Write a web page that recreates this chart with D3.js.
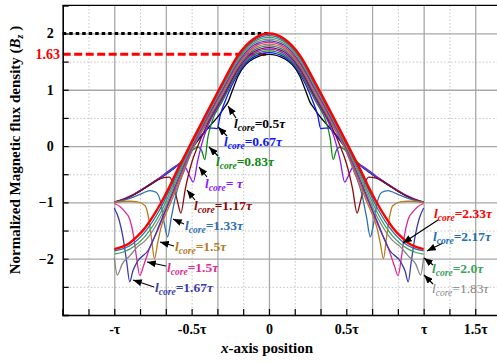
<!DOCTYPE html>
<html><head><meta charset="utf-8">
<script src="https://cdn.jsdelivr.net/npm/d3@7"></script>
<style>body{margin:0;background:#fff}svg{display:block}text{font-family:"Liberation Serif","Times New Roman",serif}</style>
</head><body><svg id="c" width="497" height="363"></svg>
<script>
// ---------- data (x in units of tau, y = normalized Bz) ----------
const lcore050 = [[-1,-1],[-0.95,-0.96],[-0.9,-0.9],[-0.85,-0.83],[-0.8,-0.74],[-0.75,-0.65],[-0.7,-0.56],[-0.65,-0.46],[-0.6,-0.36],[-0.55,-0.24],[-0.5,-0.05],[-0.4,0.3],[-0.32,0.56],[-0.29,0.68],[-0.265,0.78],[-0.24,0.96],[-0.2,1.24],[-0.1,1.55],[0,1.63],[0.1,1.55],[0.2,1.24],[0.24,0.96],[0.265,0.78],[0.29,0.68],[0.32,0.56],[0.4,0.3],[0.5,-0.05],[0.55,-0.24],[0.6,-0.36],[0.65,-0.46],[0.7,-0.56],[0.75,-0.65],[0.8,-0.74],[0.85,-0.83],[0.9,-0.9],[0.95,-0.96],[1,-1]];
const lcore067 = [[-1,-1.005],[-0.95,-0.965],[-0.9,-0.905],[-0.8,-0.745],[-0.7,-0.565],[-0.6,-0.365],[-0.55,-0.245],[-0.5,-0.04],[-0.42,0.24],[-0.39,0.32],[-0.36,0.32],[-0.335,0.31],[-0.315,0.55],[-0.28,0.82],[-0.2,1.28],[-0.1,1.58],[0,1.66],[0.1,1.58],[0.2,1.28],[0.28,0.82],[0.315,0.55],[0.335,0.31],[0.36,0.32],[0.39,0.32],[0.42,0.24],[0.5,-0.04],[0.55,-0.245],[0.6,-0.365],[0.7,-0.565],[0.8,-0.745],[0.9,-0.905],[0.95,-0.965],[1,-1.005]];
const lcore083 = [[-1,-0.995],[-0.95,-0.955],[-0.9,-0.895],[-0.8,-0.735],[-0.7,-0.555],[-0.6,-0.355],[-0.55,-0.235],[-0.5,-0.09],[-0.46,-0.02],[-0.435,-0.08],[-0.415,-0.24],[-0.395,0.15],[-0.37,0.42],[-0.3,0.8],[-0.2,1.31],[-0.1,1.61],[0,1.69],[0.1,1.61],[0.2,1.31],[0.3,0.8],[0.37,0.42],[0.395,0.15],[0.415,-0.24],[0.435,-0.08],[0.46,-0.02],[0.5,-0.09],[0.55,-0.235],[0.6,-0.355],[0.7,-0.555],[0.8,-0.735],[0.9,-0.895],[0.95,-0.955],[1,-0.995]];
const lcore100 = [[-1,-0.99],[-0.95,-0.95],[-0.9,-0.89],[-0.8,-0.73],[-0.7,-0.55],[-0.6,-0.35],[-0.56,-0.32],[-0.535,-0.4],[-0.51,-0.55],[-0.49,-0.64],[-0.46,-0.25],[-0.43,0.08],[-0.4,0.32],[-0.3,0.84],[-0.2,1.34],[-0.1,1.64],[0,1.72],[0.1,1.64],[0.2,1.34],[0.3,0.84],[0.4,0.32],[0.43,0.08],[0.46,-0.25],[0.49,-0.64],[0.51,-0.55],[0.535,-0.4],[0.56,-0.32],[0.6,-0.35],[0.7,-0.55],[0.8,-0.73],[0.9,-0.89],[0.95,-0.95],[1,-0.99]];
const lcore117 = [[-1,-1],[-0.9,-0.9],[-0.8,-0.74],[-0.72,-0.6],[-0.68,-0.56],[-0.645,-0.55],[-0.62,-0.66],[-0.59,-1.0],[-0.57,-1.19],[-0.54,-0.75],[-0.5,-0.3],[-0.46,0.0],[-0.4,0.38],[-0.3,0.87],[-0.2,1.37],[-0.1,1.67],[0,1.75],[0.1,1.67],[0.2,1.37],[0.3,0.87],[0.4,0.38],[0.46,0.0],[0.5,-0.3],[0.54,-0.75],[0.57,-1.19],[0.59,-1.0],[0.62,-0.66],[0.645,-0.55],[0.68,-0.56],[0.72,-0.6],[0.8,-0.74],[0.9,-0.9],[1,-1]];
const lcore133 = [[-1,-1],[-0.95,-0.97],[-0.9,-0.93],[-0.82,-0.84],[-0.77,-0.79],[-0.73,-0.82],[-0.7,-1.0],[-0.675,-1.4],[-0.655,-1.61],[-0.63,-1.25],[-0.6,-0.85],[-0.55,-0.45],[-0.5,-0.1],[-0.4,0.42],[-0.3,0.9],[-0.2,1.4],[-0.1,1.7],[0,1.78],[0.1,1.7],[0.2,1.4],[0.3,0.9],[0.4,0.42],[0.5,-0.1],[0.55,-0.45],[0.6,-0.85],[0.63,-1.25],[0.655,-1.61],[0.675,-1.4],[0.7,-1.0],[0.73,-0.82],[0.77,-0.79],[0.82,-0.84],[0.9,-0.93],[0.95,-0.97],[1,-1]];
const lcore150a = [[-1,-1],[-0.9,-0.98],[-0.85,-0.99],[-0.8,-1.06],[-0.78,-1.25],[-0.76,-1.62],[-0.74,-2.0],[-0.72,-1.73],[-0.7,-1.47],[-0.65,-1.1],[-0.6,-0.78],[-0.5,-0.08],[-0.4,0.45],[-0.3,0.94],[-0.2,1.43],[-0.1,1.73],[0,1.81],[0.1,1.73],[0.2,1.43],[0.3,0.94],[0.4,0.45],[0.5,-0.08],[0.6,-0.78],[0.65,-1.1],[0.7,-1.47],[0.72,-1.73],[0.74,-2.0],[0.76,-1.62],[0.78,-1.25],[0.8,-1.06],[0.85,-0.99],[0.9,-0.98],[1,-1]];
const lcore150b = [[-1,-1.02],[-0.96,-1.08],[-0.93,-1.17],[-0.9,-1.3],[-0.875,-1.6],[-0.855,-2.0],[-0.835,-2.3],[-0.81,-2.12],[-0.77,-1.8],[-0.72,-1.5],[-0.66,-1.1],[-0.6,-0.72],[-0.5,-0.05],[-0.4,0.48],[-0.3,0.98],[-0.2,1.46],[-0.1,1.76],[0,1.84],[0.1,1.76],[0.2,1.46],[0.3,0.98],[0.4,0.48],[0.5,-0.05],[0.6,-0.72],[0.66,-1.1],[0.72,-1.5],[0.77,-1.8],[0.81,-2.12],[0.835,-2.3],[0.855,-2.0],[0.875,-1.6],[0.9,-1.3],[0.93,-1.17],[0.96,-1.08],[1,-1.02]];
const lcore167 = [[-1,-1.1],[-0.97,-1.3],[-0.945,-1.6],[-0.92,-2.05],[-0.9,-2.41],[-0.88,-2.22],[-0.85,-2.05],[-0.78,-1.85],[-0.7,-1.34],[-0.6,-0.67],[-0.5,-0.02],[-0.4,0.51],[-0.3,1.01],[-0.2,1.49],[-0.1,1.79],[0,1.87],[0.1,1.79],[0.2,1.49],[0.3,1.01],[0.4,0.51],[0.5,-0.02],[0.6,-0.67],[0.7,-1.34],[0.78,-1.85],[0.85,-2.05],[0.88,-2.22],[0.9,-2.41],[0.92,-2.05],[0.945,-1.6],[0.97,-1.3],[1,-1.1]];
const lcore183 = [[-1,-1.98],[-0.98,-2.29],[-0.95,-2.1],[-0.9,-1.95],[-0.85,-1.79],[-0.8,-1.68],[-0.7,-1.26],[-0.6,-0.62],[-0.5,0.0],[-0.4,0.54],[-0.3,1.04],[-0.2,1.52],[-0.1,1.82],[0,1.9],[0.1,1.82],[0.2,1.52],[0.3,1.04],[0.4,0.54],[0.5,0.0],[0.6,-0.62],[0.7,-1.26],[0.8,-1.68],[0.85,-1.79],[0.9,-1.95],[0.95,-2.1],[0.98,-2.29],[1,-1.98]];
const lcore200 = [[-1,-1.92],[-0.95,-1.89],[-0.9,-1.83],[-0.8,-1.6],[-0.7,-1.18],[-0.6,-0.57],[-0.5,0.03],[-0.4,0.56],[-0.3,1.07],[-0.2,1.55],[-0.1,1.85],[0,1.93],[0.1,1.85],[0.2,1.55],[0.3,1.07],[0.4,0.56],[0.5,0.03],[0.6,-0.57],[0.7,-1.18],[0.8,-1.6],[0.9,-1.83],[0.95,-1.89],[1,-1.92]];
const lcore217 = [[-1,-1.86],[-0.95,-1.83],[-0.9,-1.77],[-0.8,-1.52],[-0.7,-1.1],[-0.6,-0.52],[-0.5,0.05],[-0.4,0.58],[-0.3,1.09],[-0.2,1.58],[-0.1,1.87],[0,1.96],[0.1,1.87],[0.2,1.58],[0.3,1.09],[0.4,0.58],[0.5,0.05],[0.6,-0.52],[0.7,-1.1],[0.8,-1.52],[0.9,-1.77],[0.95,-1.83],[1,-1.86]];
const lcore233 = [[-1,-1.83],[-0.95,-1.79],[-0.9,-1.72],[-0.85,-1.6],[-0.8,-1.45],[-0.75,-1.25],[-0.7,-1.02],[-0.65,-0.76],[-0.6,-0.47],[-0.55,-0.2],[-0.5,0.07],[-0.4,0.6],[-0.3,1.12],[-0.2,1.61],[-0.1,1.9],[0,2.0],[0.1,1.9],[0.2,1.61],[0.3,1.12],[0.4,0.6],[0.5,0.07],[0.55,-0.2],[0.6,-0.47],[0.65,-0.76],[0.7,-1.02],[0.75,-1.25],[0.8,-1.45],[0.85,-1.6],[0.9,-1.72],[0.95,-1.79],[1,-1.83]];

const seriesData   = [lcore050,lcore067,lcore083,lcore100,lcore117,lcore133,lcore150a,lcore150b,lcore167,lcore183,lcore200,lcore217,lcore233];
const seriesLabels = ["=0.5τ","=0.67τ","=0.83τ","= τ","=1.17τ","=1.33τ","=1.5τ","=1.5τ","=1.67τ","=1.83τ","=2.0τ","=2.17τ","=2.33τ"];
const seriesColors = ["#000000","#0a14ff","#108a10","#8a1aff","#8b0a0a","#2f6fb0","#b87a1c","#dc2a96","#3c3ca8","#858585","#3ca05e","#1e70b0","#ff0000"];

const xTickValues = [-1,-0.5,0,0.5,1,4/3];
const xTickLabels = ["-τ","-0.5τ","0","0.5τ","τ","1.5τ"];
const xMajorGrid  = [-1,-2/3,-1/3,0,1/3,2/3,1,4/3];
const xMinorGrid  = [-7/6,-5/6,-1/2,-1/6,1/6,1/2,5/6,7/6];
const yTickValues = [-2,-1,0,1,2];
const yMinorGrid  = [-2.5,-1.5,-0.5,0.5,1.5];
const refLevels   = [2,1.63];

// ---------- layout ----------
const X0=62.7, X1=501, Y0=315, Y1=5.3;
const x=d3.scaleLinear().domain([-4/3,1.5]).range([X0,X1]);
const y=d3.scaleLinear().domain([-3,2.5]).range([Y0,Y1]);
const svg=d3.select("#c");
const defs=svg.append("defs");
defs.append("clipPath").attr("id","clip").append("rect").attr("x",X0).attr("y",Y1).attr("width",X1-X0).attr("height",Y0-Y1);
defs.append("marker").attr("id","ah").attr("viewBox","0 0 10 8").attr("refX",10).attr("refY",4)
  .attr("markerWidth",9).attr("markerHeight",7).attr("markerUnits","userSpaceOnUse").attr("orient","auto")
  .append("path").attr("d","M0,0L10,4L0,8z").attr("fill","#000");

// grid
const g=svg.append("g");
g.append("g").attr("transform",`translate(0,${Y0})`).call(d3.axisBottom(x).tickValues(xMinorGrid).tickSize(-(Y0-Y1)).tickFormat(""))
  .call(a=>{a.select(".domain").remove();a.selectAll("line").attr("stroke","#c4c4c4").attr("stroke-width",1).attr("stroke-dasharray","1.5,2");});
g.append("g").attr("transform",`translate(${X0},0)`).call(d3.axisLeft(y).tickValues(yMinorGrid).tickSize(-(X1-X0)).tickFormat(""))
  .call(a=>{a.select(".domain").remove();a.selectAll("line").attr("stroke","#c4c4c4").attr("stroke-width",1).attr("stroke-dasharray","1.5,2");});
g.append("g").attr("transform",`translate(0,${Y0})`).call(d3.axisBottom(x).tickValues(xMajorGrid).tickSize(-(Y0-Y1)).tickFormat(""))
  .call(a=>{a.select(".domain").remove();a.selectAll("line").attr("stroke","#a8a8a8").attr("stroke-width",1.3);});
g.append("g").attr("transform",`translate(${X0},0)`).call(d3.axisLeft(y).tickValues(yTickValues).tickSize(-(X1-X0)).tickFormat(""))
  .call(a=>{a.select(".domain").remove();a.selectAll("line").attr("stroke","#a8a8a8").attr("stroke-width",1.3);});

// reference dashed lines
svg.append("line").attr("x1",X0).attr("x2",x(0)).attr("y1",y(refLevels[0])).attr("y2",y(refLevels[0]))
  .attr("stroke","#000").attr("stroke-width",3).attr("stroke-dasharray","3.5,3");
svg.append("line").attr("x1",X0).attr("x2",x(0)).attr("y1",y(refLevels[1])).attr("y2",y(refLevels[1]))
  .attr("stroke","#ff0000").attr("stroke-width",3).attr("stroke-dasharray","8,3.5");

// curves
const line=d3.line().x(d=>x(d[0])).y(d=>y(d[1])).curve(d3.curveMonotoneX);
const cg=svg.append("g").attr("clip-path","url(#clip)");
seriesData.forEach((s,i)=>{
  cg.append("path").datum(s).attr("d",line).attr("fill","none").attr("stroke",seriesColors[i])
    .attr("stroke-width",i===12?2.4:1.3).attr("stroke-linejoin","round");
});

// axes frame
svg.append("line").attr("x1",X0).attr("x2",497).attr("y1",Y1).attr("y2",Y1).attr("stroke","#000").attr("stroke-width",1.3);
const minorTicks=[...xMajorGrid,...xMinorGrid,-4/3];
svg.append("g").attr("transform",`translate(0,${Y0})`).call(d3.axisBottom(x).tickValues(minorTicks).tickSize(-6).tickFormat(""))
  .call(a=>{a.select(".domain").attr("stroke","#000").attr("stroke-width",1.6);a.selectAll("line").attr("stroke","#000").attr("stroke-width",1.2);});
svg.append("g").attr("transform",`translate(${X0},0)`).call(d3.axisLeft(y).tickValues([...yTickValues,...yMinorGrid,2.5,-3]).tickSize(-6).tickFormat(""))
  .call(a=>{a.select(".domain").attr("stroke","#000").attr("stroke-width",1.6);a.selectAll("line").attr("stroke","#000").attr("stroke-width",1.2);});

// tick labels
svg.append("g").attr("transform",`translate(0,${Y0})`)
  .call(d3.axisBottom(x).tickValues(xTickValues).tickSize(0).tickPadding(9).tickFormat((d,i)=>xTickLabels[i]))
  .call(a=>{a.select(".domain").remove();a.selectAll("text").attr("font-family","Liberation Serif").attr("font-size",14).attr("font-weight","bold").attr("fill","#000");});
svg.append("g").attr("transform",`translate(${X0},0)`)
  .call(d3.axisLeft(y).tickValues(yTickValues).tickSize(0).tickPadding(9).tickFormat(d3.format("d")))
  .call(a=>{a.select(".domain").remove();a.selectAll("text").attr("font-family","Liberation Serif").attr("font-size",14).attr("font-weight","bold").attr("fill","#000");});
svg.append("text").attr("x",60).attr("y",y(refLevels[1])+5).attr("text-anchor","end").attr("font-size",14)
  .attr("font-weight","bold").attr("fill","#ff0000").text("1.63");

// axis titles
const xt=svg.append("text").attr("x",267).attr("y",353).attr("text-anchor","middle").attr("font-size",15).attr("font-weight","bold");
xt.append("tspan").attr("font-style","italic").text("x");
xt.append("tspan").text("-axis position");
const yt=svg.append("text").attr("transform","translate(20,150) rotate(-90)").attr("text-anchor","middle").attr("font-size",15).attr("font-weight","bold");
yt.append("tspan").text("Normalized Magnetic flux density (");
yt.append("tspan").attr("font-style","italic").text("B");
yt.append("tspan").attr("font-style","italic").attr("font-size",10).attr("dy",3).text("z");
yt.append("tspan").attr("dy",-3).text(" )");

// curve labels: [text x, baseline y, arrow from x,y, arrow to x,y]
const labelPos = [
  [234,128, 236,118, 228,106],
  [224,146, 227,136, 218,127],
  [216,166, 218,156, 209,147],
  [205,188, 207,177, 199,167],
  [194,210, 195,200, 187,190],
  [185,230, 184,224, 173,219],
  [175,251, 174,246, 160,242],
  [167,272, 166,266, 147,262],
  [155,292, 154,287, 133,280],
  [432,293, 433,284, 424,275],
  [432,273, 433,265, 424,258],
  [433,241, 443,243, 427,251],
  [434,218, 438,220, 403,243]
];
labelPos.forEach((p,i)=>{
  svg.append("line").attr("x1",p[2]).attr("y1",p[3]).attr("x2",p[4]).attr("y2",p[5])
    .attr("stroke","#000").attr("stroke-width",1.2).attr("marker-end","url(#ah)");
  const t=svg.append("text").attr("x",p[0]).attr("y",p[1]).attr("font-size",13.5)
    .attr("font-weight",i===9?"normal":"bold").attr("fill",seriesColors[i]);
  t.append("tspan").attr("font-style","italic").text("l");
  t.append("tspan").attr("font-style","italic").attr("font-size",9.5).attr("dy",2.5).text("core");
  t.append("tspan").attr("dy",-2.5).text(seriesLabels[i].replace("τ",""));
  t.append("tspan").attr("font-style","italic").text("τ");
});
</script>
</body></html>
